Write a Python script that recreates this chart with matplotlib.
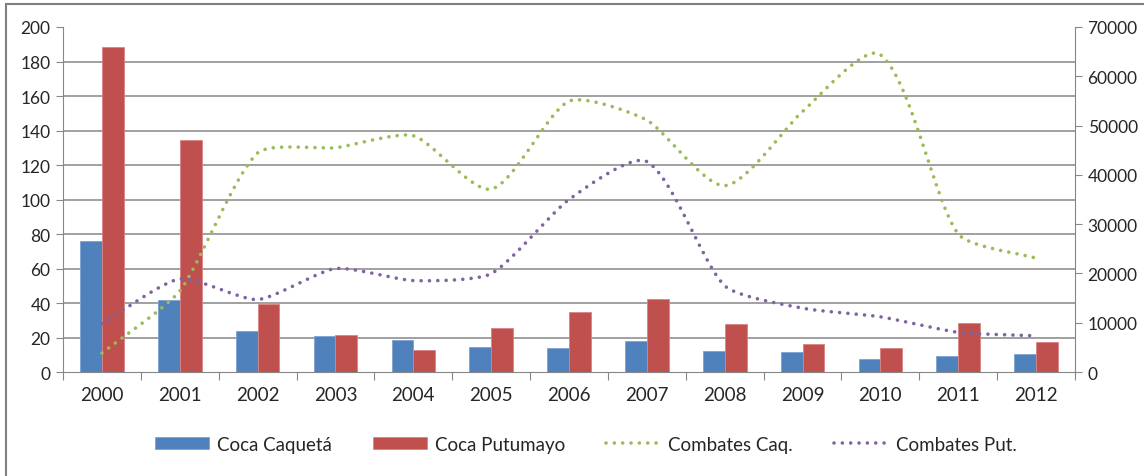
import numpy as np
import matplotlib.pyplot as plt
from matplotlib.patches import Rectangle

years = ['2000', '2001', '2002', '2003', '2004', '2005', '2006',
         '2007', '2008', '2009', '2010', '2011', '2012']
# coca (ha) - right axis
coca_caqueta = [26603, 14516, 8412, 7230, 6500, 4988, 4967,
                6318, 4303, 3985, 2578, 3327, 3695]
coca_putumayo = [66022, 47120, 13725, 7559, 4386, 8963, 12254,
                 14813, 9658, 5633, 4785, 9951, 6148]
# combates - left axis
combates_caq = [11, 47, 127, 130, 137, 106, 157, 146, 108, 151, 184, 80, 66]
combates_put = [28, 54, 42, 60, 53, 57, 100, 122, 50, 37, 32, 23, 21]


def smooth(x, y, sx=78.0, sy=1.725, n=24):
    # excel-like smoothed line, computed in screen-ish units
    p = np.column_stack([np.asarray(x) * sx, np.asarray(y) * sy]).astype(float)
    p = np.vstack([p[0], p, p[-1]])
    xs, ys = [], []
    t = np.linspace(0, 1, n)[:, None]
    for i in range(1, len(p) - 2):
        p0, p1, p2, p3 = p[i - 1], p[i], p[i + 1], p[i + 2]
        d1 = np.hypot(*(p2 - p1))
        c1 = p1 + (p2 - p0) / np.hypot(*(p2 - p0)) * d1 / 6 * 1.2
        c2 = p2 - (p3 - p1) / np.hypot(*(p3 - p1)) * d1 / 6 * 1.2
        b = ((1 - t) ** 3) * p1 + 3 * ((1 - t) ** 2) * t * c1 + 3 * (1 - t) * t ** 2 * c2 + t ** 3 * p2
        xs.extend(b[:, 0])
        ys.extend(b[:, 1])
    return np.array(xs) / sx, np.array(ys) / sy


plt.rcParams['font.family'] = ['Lato', 'DejaVu Sans']
grey = '#868686'
txt = '#262626'

fig = plt.figure(figsize=(11.44, 4.77), dpi=100)
ax = fig.add_axes([0.0551, 0.218, 0.8846, 0.7233])
axb = ax.twinx()
ax.set_zorder(axb.get_zorder() + 1)
ax.patch.set_visible(False)

x = np.arange(len(years))
w = 0.28
axb.bar(x - w / 2, coca_caqueta, w, color='#4F81BD', edgecolor='#7FA2D0', linewidth=0.6, label='Coca Caquetá')
axb.bar(x + w / 2, coca_putumayo, w, color='#C0504D', edgecolor='#D98583', linewidth=0.6, label='Coca Putumayo')
axb.set_ylim(0, 70000)
axb.set_yticks(np.arange(0, 70001, 10000))
axb.set_yticks(np.arange(0, 70001, 7000), minor=True)
axb.grid(which='minor', axis='y', color=grey, linewidth=1.1)
axb.set_axisbelow(True)
axb.tick_params(axis='y', which='major', direction='out', length=5, color=grey,
                labelsize=12.5, labelcolor=txt, pad=4)
axb.tick_params(axis='y', which='minor', length=0)

sx, sy = smooth(x, combates_caq)
ax.plot(sx, sy, color='#9BBB59', lw=2.6, linestyle=(0, (0.01, 2.3)),
        dash_capstyle='round', label='Combates Caq.')
sx, sy = smooth(x, combates_put)
ax.plot(sx, sy, color='#8064A2', lw=2.6, linestyle=(0, (0.01, 2.3)),
        dash_capstyle='round', label='Combates Put.')
ax.set_ylim(0, 200)
ax.set_yticks(np.arange(0, 201, 20))
ax.tick_params(axis='y', direction='out', length=5, color=grey,
               labelsize=12.5, labelcolor=txt, pad=4)

ax.set_xlim(-0.5, len(years) - 0.5)
ax.set_xticks(np.arange(-0.5, len(years)), labels=[''] * (len(years) + 1))
ax.set_xticks(x, labels=years, minor=True)
ax.tick_params(axis='x', which='major', direction='out', length=6, color=grey)
ax.tick_params(axis='x', which='minor', length=0, labelsize=13.5, labelcolor=txt, pad=10)
axb.tick_params(axis='x', length=0)

for s in ['top', 'right', 'bottom']:
    ax.spines[s].set_visible(False)
ax.spines['left'].set_color(grey)
for s in ['top', 'left']:
    axb.spines[s].set_visible(False)
axb.spines['right'].set_color(grey)
axb.spines['bottom'].set_color(grey)

h1, l1 = axb.get_legend_handles_labels()
h2, l2 = ax.get_legend_handles_labels()
fig.legend(h1 + h2, l1 + l2, loc='center', bbox_to_anchor=(0.512, 0.067), ncol=4,
           frameon=False, fontsize=13.5, handlelength=2.9, handleheight=0.55,
           columnspacing=2.2, handletextpad=0.4, labelcolor=txt)

fig.add_artist(Rectangle((0.0052, -0.2), 1.2, 1.1895, transform=fig.transFigure,
                         fill=False, edgecolor='#7f7f7f', linewidth=1.5, clip_on=False))

fig.savefig('out.png', dpi=100)
